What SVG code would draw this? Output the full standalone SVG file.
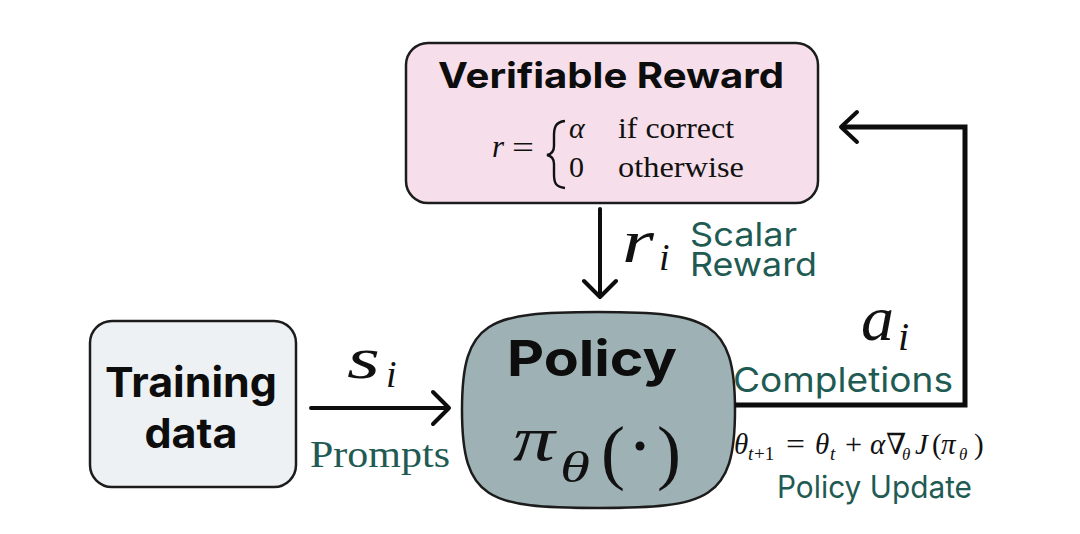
<svg xmlns="http://www.w3.org/2000/svg" width="1080" height="534" viewBox="0 0 1080 534">
<style>
.box{stroke:#1c1c1c;stroke-width:2.5}
.title{font-family:Inter,"Liberation Sans",sans-serif;font-weight:700;fill:#0d0d0d}
.lab{font-family:Inter,"Liberation Sans",sans-serif;fill:#1f5b53}
.rm{font-family:"Liberation Serif","DejaVu Serif",serif;fill:#111}
.math{font-family:"Liberation Serif","DejaVu Serif",serif;font-style:italic;fill:#111}
.it{font-style:italic}
.ln{fill:none;stroke:#0d0d0d;stroke-width:4;stroke-linecap:round;stroke-linejoin:round}
</style>
<rect width="1080" height="534" fill="#ffffff"/>
<g id="reward">
<rect class="box" x="406" y="43" width="412" height="160" rx="22" fill="#f6dfea"/>
<text class="title" x="611" y="88" font-size="35" text-anchor="middle" textLength="346" lengthAdjust="spacingAndGlyphs">Verifiable Reward</text>
<text class="math" x="492" y="157" font-size="31">r</text>
<text class="rm" x="512" y="158" font-size="31" textLength="22" lengthAdjust="spacingAndGlyphs">=</text>
<path d="M565,121 C555,122 554,128 554,136 L554,146 C554,151 552,154 547,155 C552,156 554,159 554,164 L554,174 C554,182 555,187 565,188" fill="none" stroke="#111" stroke-width="2.4"/>
<text class="math" x="569" y="138" font-size="30">α</text>
<text class="rm" x="569" y="177" font-size="30">0</text>
<text class="rm" x="618" y="138" font-size="29" textLength="116" lengthAdjust="spacingAndGlyphs">if correct</text>
<text class="rm" x="618" y="177" font-size="29" textLength="126" lengthAdjust="spacingAndGlyphs">otherwise</text>
</g>
<g id="training">
<rect class="box" x="90" y="321" width="206" height="166" rx="22" fill="#eef1f3"/>
<text class="title" x="191" y="397" font-size="41" text-anchor="middle" textLength="172" lengthAdjust="spacingAndGlyphs">Training</text>
<text class="title" x="191" y="448" font-size="41" text-anchor="middle" textLength="93" lengthAdjust="spacingAndGlyphs">data</text>
</g>
<g id="policy">
<path class="box" d="M598,312 C708,312 735,320 735,410 C735,500 708,508 598,508 C488,508 462,500 462,410 C462,320 488,312 598,312 Z" fill="#9eb1b5"/>
<text class="title" x="592" y="376" font-size="50" text-anchor="middle" textLength="170" lengthAdjust="spacingAndGlyphs">Policy</text>
<text class="math" x="513" y="460" font-size="64" textLength="42" lengthAdjust="spacingAndGlyphs">π</text>
<text class="math" x="560" y="482" font-size="44" textLength="30" lengthAdjust="spacingAndGlyphs">θ</text>
<text class="rm" x="601" y="476" font-size="72">(</text>
<circle cx="640" cy="446" r="4.5" fill="#111"/>
<text class="rm" x="657" y="476" font-size="72">)</text>
</g>
<g id="connectors">
<path class="ln" d="M600,209 L600,297 M584,281 L600,297 L616,281"/>
<path class="ln" d="M311,408 L449,408 M433,392 L449,408 L433,424"/>
<path d="M735,405 L965,405 L965,127 L843,127" fill="none" stroke="#0d0d0d" stroke-width="5"/>
<path class="ln" d="M857,112 L841,127 L857,142"/>
</g>
<g id="labels">
<text class="math" x="622" y="262" font-size="62" textLength="32" lengthAdjust="spacingAndGlyphs">r</text>
<text class="math" x="659" y="270" font-size="38">i</text>
<text class="lab" x="690" y="246" font-size="33" textLength="107" lengthAdjust="spacingAndGlyphs">Scalar</text>
<text class="lab" x="690" y="276" font-size="33" textLength="127" lengthAdjust="spacingAndGlyphs">Reward</text>
<text class="math" x="347" y="378" font-size="60" textLength="33" lengthAdjust="spacingAndGlyphs">s</text>
<text class="math" x="386" y="387" font-size="38">i</text>
<text class="rm" x="310" y="467" font-size="37" style="fill:#1f5b53" textLength="140" lengthAdjust="spacingAndGlyphs">Prompts</text>
<text class="math" x="861" y="340" font-size="64" textLength="33" lengthAdjust="spacingAndGlyphs">a</text>
<text class="math" x="898" y="350" font-size="40">i</text>
<text class="lab" x="733" y="392" font-size="34" textLength="220" lengthAdjust="spacingAndGlyphs">Completions</text>
<text class="rm" y="454" font-size="29"><tspan class="it" x="734">θ</tspan><tspan class="it" x="748" y="460" font-size="19">t</tspan><tspan x="754" y="460" font-size="19">+1</tspan><tspan x="786" y="454" textLength="19" lengthAdjust="spacingAndGlyphs">=</tspan><tspan class="it" x="815">θ</tspan><tspan class="it" x="830" y="460" font-size="19">t</tspan><tspan x="845" y="454" textLength="17" lengthAdjust="spacingAndGlyphs">+</tspan><tspan class="it" x="870">α</tspan><tspan x="886">∇</tspan><tspan class="it" x="902" y="460" font-size="17">θ</tspan><tspan class="it" x="915" y="454">J</tspan><tspan x="932">(</tspan><tspan class="it" x="941">π</tspan><tspan class="it" x="959" y="460" font-size="17">θ</tspan><tspan x="974" y="454">)</tspan></text>
<text class="lab" x="777" y="498" font-size="31" textLength="195" lengthAdjust="spacingAndGlyphs">Policy Update</text>
</g>
</svg>
